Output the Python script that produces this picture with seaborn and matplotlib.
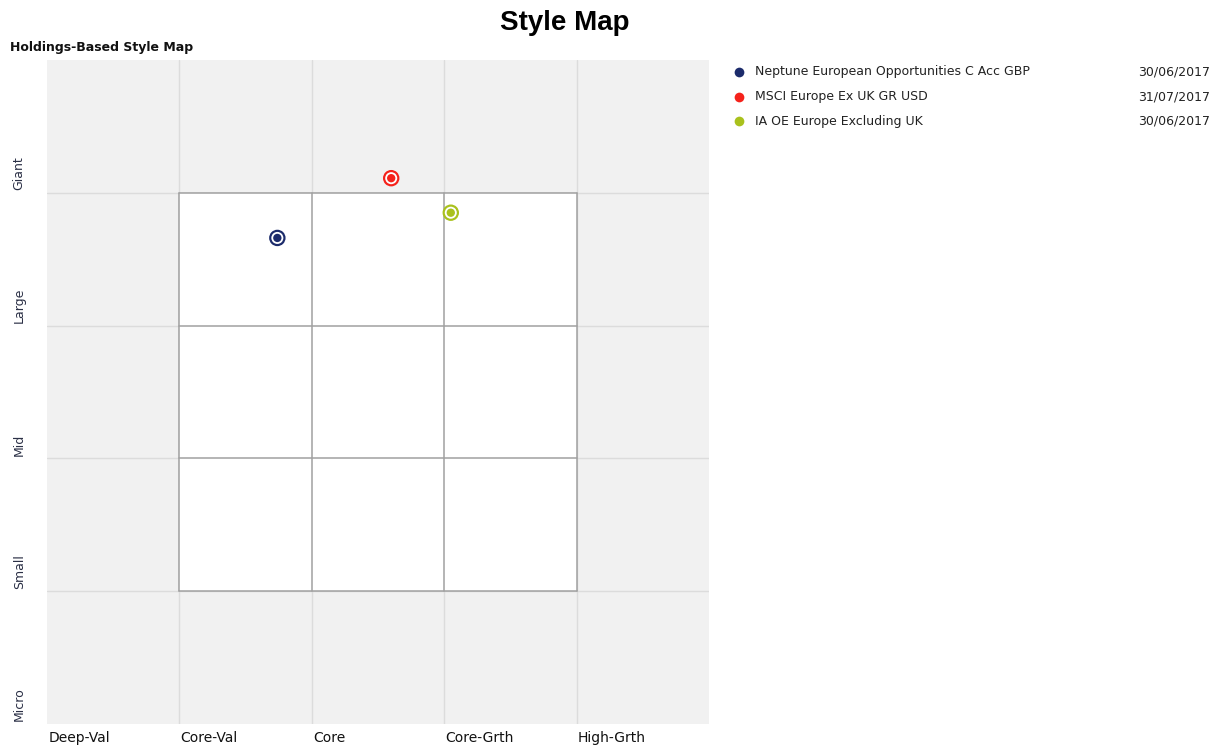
import matplotlib
matplotlib.use("Agg")
import matplotlib.pyplot as plt
import seaborn as sns
import pandas as pd
from matplotlib.lines import Line2D
from matplotlib.patches import Rectangle
from matplotlib import font_manager

# ---- data ----
names = ["Neptune European Opportunities C Acc GBP", "MSCI Europe Ex UK GR USD", "IA OE Europe Excluding UK"]
dates = ["30/06/2017", "31/07/2017", "30/06/2017"]
style_x = [1.74, 2.60, 3.05]
size_y = [3.66, 4.11, 3.85]
colors = ["#1c2b6b", "#f5221b", "#a9c11c"]
x_labels = ["Deep-Val", "Core-Val", "Core", "Core-Grth", "High-Grth"]
y_labels = ["Micro", "Small", "Mid", "Large", "Giant"]

df = pd.DataFrame({"name": names, "x": style_x, "y": size_y})
palette = dict(zip(names, colors))

sns.set_theme(style="white")
plt.rcParams['font.family'] = ['DejaVu Sans']

# find a true Arial-metric bold font (avoid Narrow)
title_fp = None
for f in font_manager.fontManager.ttflist:
    if f.fname.endswith("LiberationSans-Bold.ttf"):
        title_fp = font_manager.FontProperties(fname=f.fname, size=20)
        break
if title_fp is None:
    title_fp = font_manager.FontProperties(family="DejaVu Sans", weight="bold", size=17)

fig = plt.figure(figsize=(12.23, 7.47), dpi=100)
ax = fig.add_axes([0.0384, 0.0308, 0.5413, 0.8889])
ax.set_facecolor("#f1f1f1")
ax.set_xlim(0, 5)
ax.set_ylim(0, 5)

# light grid
for v in range(1, 5):
    ax.axvline(v, color="#dcdcdc", lw=1, zorder=1)
    ax.axhline(v, color="#dcdcdc", lw=1, zorder=1)

# white inner 3x3 box
ax.add_patch(Rectangle((1, 1), 3, 3, facecolor="white", edgecolor="none", zorder=2))
for v in range(1, 5):
    ax.plot([v, v], [1, 4], color="#a0a0a0", lw=1.1, zorder=3)
    ax.plot([1, 4], [v, v], color="#a0a0a0", lw=1.1, zorder=3)

# points: outer ring, white ring, center dot
sns.scatterplot(data=df, x="x", y="y", hue="name", palette=palette, s=140,
                edgecolor="none", legend=False, ax=ax, zorder=5)
ax.scatter(df["x"], df["y"], s=75, color="white", edgecolor="none", zorder=6)
sns.scatterplot(data=df, x="x", y="y", hue="name", palette=palette, s=36,
                edgecolor="none", legend=False, ax=ax, zorder=7)

for s in ax.spines.values():
    s.set_visible(False)
ax.set_xticks([])
ax.set_yticks([])
ax.set_xlabel("")
ax.set_ylabel("")

for i, lab in enumerate(x_labels):
    ax.text(i + 0.01, -0.05, lab, ha="left", va="top", fontsize=10, color="#111111")
for i, lab in enumerate(y_labels):
    ax.text(-0.21, i + 0.02, lab, ha="left", va="center", rotation=90,
            rotation_mode="anchor", fontsize=9, color="#2a2f45")

fig.text(0.462, 0.969, "Style Map", ha="center", va="center",
         fontproperties=title_fp, color="black")
fig.text(0.008, 0.937, "Holdings-Based Style Map", ha="left", va="center",
         fontsize=9, fontweight="bold", color="#111111")

# legend
for i, (n, d, c) in enumerate(zip(names, dates, colors)):
    yy = 1 - (72 + 24.5 * i) / 747
    fig.add_artist(Line2D([739 / 1223], [yy], marker="o", markersize=7, color=c,
                          markeredgecolor="none", transform=fig.transFigure))
    fig.text(755 / 1223, yy, n, ha="left", va="center", fontsize=9, color="#222222")
    fig.text(1210 / 1223, yy, d, ha="right", va="center", fontsize=9, color="#222222")

fig.savefig("out.png", dpi=100)
